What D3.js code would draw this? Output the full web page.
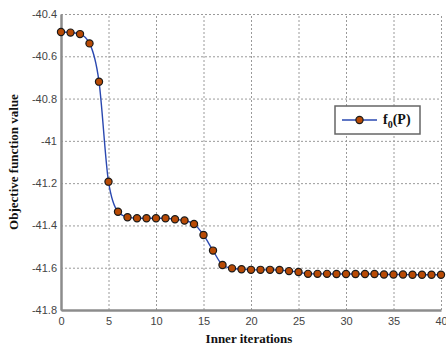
<!DOCTYPE html>
<html>
<head>
<meta charset="utf-8">
<script src="https://cdn.jsdelivr.net/npm/d3@7"></script>
<style>
  body { margin: 0; background: #fff; }
  .tick text { font-family: Arial, "Liberation Sans", sans-serif; font-size: 11px; fill: #444; }
  .axisLine .domain { stroke: #8c8c8c; stroke-width: 2.5; }
  .grid line { stroke: #9a9a9a; stroke-dasharray: 2,2; }
  .grid .domain { display: none; }
</style>
</head>
<body>
<div id="chart"></div>
<script>
var iterations = d3.range(0, 41)
var objective = [
  -40.485, -40.488, -40.495, -40.539, -40.72, -41.193, -41.335, -41.361, -41.366, -41.366,
  -41.366, -41.366, -41.371, -41.377, -41.393, -41.445, -41.519, -41.587, -41.603, -41.607,
  -41.61, -41.61, -41.61, -41.611, -41.616, -41.62, -41.629, -41.629, -41.629, -41.63,
  -41.63, -41.63, -41.63, -41.63, -41.632, -41.632, -41.632, -41.633, -41.633, -41.633,
  -41.633
]
var xTicks = [0, 5, 10, 15, 20, 25, 30, 35, 40]
var yTicks = [-40.4, -40.6, -40.8, -41, -41.2, -41.4, -41.6, -41.8]

var width = 446, height = 349
var margin = { top: 14, left: 61, right: 5, bottom: 39 }

var svg = d3.select('#chart').append('svg')
  .attr('width', width)
  .attr('height', height)

var x = d3.scaleLinear().domain([0, 40]).range([margin.left, 441])
var y = d3.scaleLinear().domain([-41.8, -40.4]).range([310, margin.top])

// grid
svg.append('g')
  .attr('class', 'grid')
  .attr('transform', 'translate(0,310)')
  .call(d3.axisBottom(x).tickValues(xTicks).tickSize(-(310 - margin.top)).tickFormat(''))
svg.append('g')
  .attr('class', 'grid')
  .attr('transform', 'translate(' + margin.left + ',0)')
  .call(d3.axisLeft(y).tickValues(yTicks).tickSize(-(441 - margin.left)).tickFormat(''))

// axes
svg.append('g')
  .attr('class', 'axisLine')
  .attr('transform', 'translate(0,310)')
  .call(d3.axisBottom(x).tickValues(xTicks).tickSize(0).tickPadding(7))
svg.append('g')
  .attr('class', 'axisLine')
  .attr('transform', 'translate(' + margin.left + ',0)')
  .call(d3.axisLeft(y).tickValues(yTicks).tickSize(0).tickPadding(4)
    .tickFormat(d => String(+d.toFixed(1))))

// line
var line = d3.line()
  .x((d, i) => x(iterations[i]))
  .y(d => y(d))
  .curve(d3.curveMonotoneX)

svg.append('path')
  .datum(objective)
  .attr('d', line)
  .attr('fill', 'none')
  .attr('stroke', '#2a48b0')
  .attr('stroke-width', 1.4)

svg.selectAll('.pt')
  .data(objective)
  .enter()
  .append('circle')
  .attr('class', 'pt')
  .attr('cx', (d, i) => x(iterations[i]))
  .attr('cy', d => y(d))
  .attr('r', 3.6)
  .attr('fill', '#b84a05')
  .attr('stroke', '#1a1a1a')
  .attr('stroke-width', 1.2)

// legend
var lg = svg.append('g').attr('transform', 'translate(335,106)')
lg.append('rect')
  .attr('width', 85)
  .attr('height', 28)
  .attr('fill', '#fff')
  .attr('stroke', '#666')
  .attr('stroke-width', 1.5)
lg.append('line')
  .attr('x1', 7).attr('x2', 42).attr('y1', 14).attr('y2', 14)
  .attr('stroke', '#2a48b0').attr('stroke-width', 1.4)
lg.append('circle')
  .attr('cx', 24.5).attr('cy', 14).attr('r', 3.6)
  .attr('fill', '#b84a05').attr('stroke', '#1a1a1a').attr('stroke-width', 1.2)
var lt = lg.append('text')
  .attr('x', 48).attr('y', 18)
  .attr('font-family', '"Liberation Serif", "Times New Roman", serif')
  .attr('font-weight', 'bold')
  .attr('font-size', '14px')
  .attr('fill', '#111')
lt.append('tspan').text('f')
lt.append('tspan').attr('dy', 4).attr('font-size', '10px').text('0')
lt.append('tspan').attr('dy', -4).text('(P)')

// axis titles
svg.append('text')
  .attr('x', 249)
  .attr('y', 343)
  .attr('text-anchor', 'middle')
  .attr('font-family', '"Liberation Serif", "Times New Roman", serif')
  .attr('font-weight', 'bold')
  .attr('font-size', '13px')
  .attr('fill', '#111')
  .text('Inner iterations')

svg.append('text')
  .attr('transform', 'translate(18,162) rotate(-90)')
  .attr('text-anchor', 'middle')
  .attr('font-family', '"Liberation Serif", "Times New Roman", serif')
  .attr('font-weight', 'bold')
  .attr('font-size', '13px')
  .attr('fill', '#111')
  .text('Objective function value')
</script>
</body>
</html>
